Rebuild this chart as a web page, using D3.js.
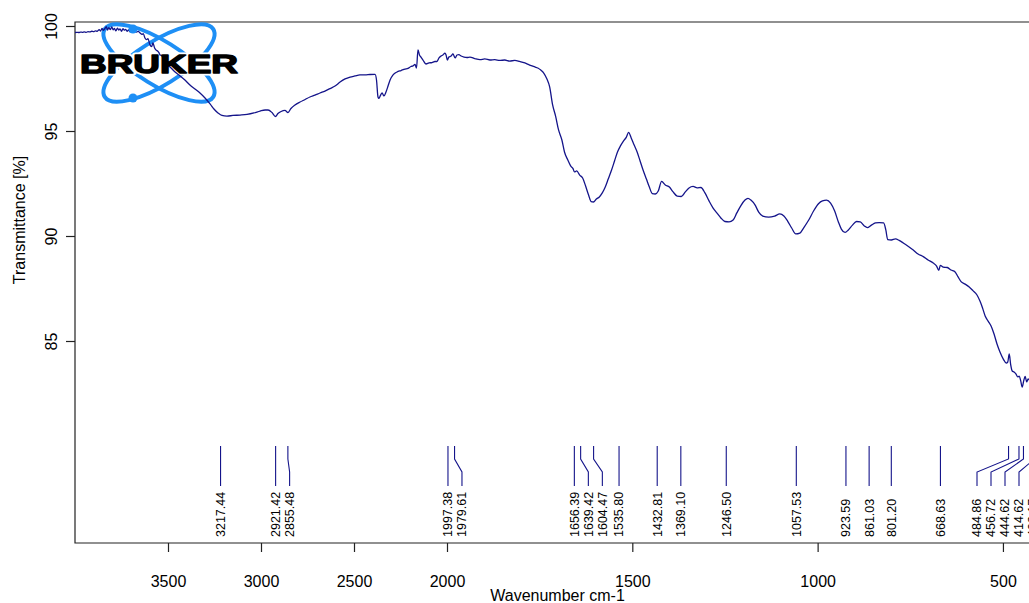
<!DOCTYPE html>
<html>
<head>
<meta charset="utf-8">
<script src="https://cdn.jsdelivr.net/npm/d3@7"></script>
<style>
  html, body { margin: 0; padding: 0; background: #fff; }
  svg { display: block; }
  text { font-family: "Liberation Sans", Arial, sans-serif; }
</style>
</head>
<body>
<svg id="chart" width="1029" height="603"></svg>
<script>
// IR spectrum (ATR), wavenumber in cm-1 and transmittance in %
const wavenumber = [
  4000, 3990, 3980, 3970, 3960, 3950, 3940, 3930, 3920, 3910, 3900, 3890, 3880, 3870, 3862, 3855,
  3848, 3840, 3832, 3825, 3818, 3810, 3802, 3795, 3788, 3780, 3772, 3765, 3758, 3750, 3742, 3735,
  3728, 3720, 3712, 3705, 3698, 3690, 3680, 3670, 3660, 3650, 3640, 3633, 3624, 3615, 3608, 3597,
  3588, 3581, 3572, 3565, 3555, 3548, 3543, 3535, 3527,
  3505, 3489, 3462, 3435, 3409, 3382, 3355, 3328, 3301, 3274, 3253, 3231, 3210, 3183, 3151, 3113,
  3075, 3038, 3005, 2978, 2962, 2941, 2922, 2909, 2892, 2871, 2855, 2839, 2817, 2790, 2763, 2737,
  2710, 2683, 2656, 2629, 2602, 2575, 2548, 2521, 2495, 2468, 2441, 2414, 2387, 2379, 2371, 2366,
  2357, 2349, 2339, 2328, 2317, 2306, 2290, 2269, 2247, 2226, 2210, 2194, 2183, 2172, 2164, 2156,
  2148, 2140, 2129, 2113, 2097, 2081, 2065, 2054, 2043, 2032, 2022, 2011, 2005, 1999, 1995, 1989,
  1984, 1978, 1973, 1968, 1962, 1954, 1946, 1938, 1925, 1911, 1898, 1884, 1871, 1858, 1844, 1831,
  1817, 1804, 1790, 1777, 1763, 1755, 1747, 1739, 1731, 1723, 1715, 1707, 1699, 1690, 1683, 1674,
  1666, 1660, 1656, 1650, 1642, 1634, 1626, 1618, 1611, 1605, 1597, 1589, 1581, 1573, 1565, 1556,
  1548, 1540, 1532, 1524, 1516, 1510, 1503, 1495, 1487, 1479, 1471, 1462, 1454, 1446, 1438, 1430,
  1421, 1411, 1400, 1390, 1379, 1368, 1357, 1347, 1336, 1325, 1315, 1304, 1293, 1282, 1272, 1261,
  1250, 1239, 1228, 1218, 1207, 1196, 1188, 1180, 1169, 1159, 1148, 1132, 1116, 1102, 1091, 1081,
  1070, 1059, 1048, 1038, 1024, 1011, 997, 987, 976, 965, 954, 944, 936, 926, 917, 906,
  895, 885, 874, 866, 855, 844, 834, 822, 816, 811, 801, 790, 780, 769, 755, 742,
  729, 715, 702, 688, 679, 673, 669, 661, 650, 640, 629, 621, 613, 602, 591, 581,
  570, 562, 555, 548, 540, 532, 524, 516, 508, 499, 491, 487, 483, 479, 475, 470,
  465, 460, 456, 452, 448, 444, 440, 436, 432, 424, 416, 400
];
const transmittance = [
  99.69, 99.70, 99.69, 99.71, 99.70, 99.72, 99.70, 99.73, 99.72, 99.75, 99.73, 99.77, 99.75, 99.83, 99.76, 99.89,
  99.79, 99.87, 99.97, 99.81, 99.92, 99.83, 99.96, 99.82, 99.88, 99.77, 99.90, 99.81, 99.86, 99.75, 99.87, 99.80,
  99.84, 99.75, 99.82, 99.72, 99.79, 99.74, 99.78, 99.71, 99.74, 99.67, 99.60, 99.64, 99.43, 99.35, 99.40, 99.10,
  99.02, 99.19, 98.95, 98.86, 98.80, 98.72, 98.62, 98.60, 98.48,
  98.19, 98.05, 97.81, 97.62, 97.43, 97.19, 97.00, 96.81, 96.57, 96.29, 96.05, 95.86, 95.74, 95.71, 95.74, 95.76,
  95.79, 95.86, 95.95, 96.00, 96.00, 95.88, 95.69, 95.83, 95.93, 95.98, 95.88, 96.07, 96.24, 96.38, 96.50, 96.62,
  96.71, 96.81, 96.90, 97.02, 97.14, 97.33, 97.48, 97.57, 97.62, 97.67, 97.67, 97.69, 97.70, 97.43, 96.62, 96.55,
  96.71, 96.81, 96.67, 96.86, 97.14, 97.43, 97.67, 97.81, 97.88, 97.95, 97.98, 98.07, 98.10, 98.17, 98.00, 98.86,
  98.62, 98.52, 98.38, 98.19, 98.24, 98.26, 98.31, 98.31, 98.48, 98.57, 98.62, 98.71, 98.62, 98.38, 98.52, 98.57,
  98.67, 98.48, 98.62, 98.64, 98.57, 98.52, 98.50, 98.52, 98.45, 98.40, 98.43, 98.38, 98.40, 98.36, 98.38, 98.33,
  98.36, 98.31, 98.24, 98.14, 98.05, 98.00, 97.90, 97.76, 97.50, 97.10, 96.24, 95.71, 95.05, 94.57, 94.00, 93.62,
  93.33, 93.21, 93.05, 93.10, 92.90, 92.76, 92.38, 91.95, 91.64, 91.62, 91.76, 91.86, 92.05, 92.33, 92.71, 93.14,
  93.57, 94.00, 94.29, 94.52, 94.71, 94.93, 94.67, 94.33, 94.00, 93.57, 93.14, 92.71, 92.33, 92.02, 92.00, 92.14,
  92.60, 92.43, 92.33, 92.10, 91.90, 91.88, 92.10, 92.29, 92.36, 92.29, 92.31, 92.05, 91.67, 91.33, 91.10, 90.86,
  90.69, 90.67, 90.76, 91.10, 91.45, 91.71, 91.79, 91.71, 91.48, 91.14, 90.95, 90.90, 90.95, 91.05, 90.95, 90.71,
  90.38, 90.10, 90.14, 90.38, 90.76, 91.19, 91.55, 91.67, 91.71, 91.57, 91.19, 90.67, 90.33, 90.17, 90.29, 90.52,
  90.69, 90.67, 90.48, 90.40, 90.52, 90.62, 90.64, 90.62, 90.29, 89.83, 89.81, 89.86, 89.79, 89.67, 89.50, 89.33,
  89.14, 89.02, 88.86, 88.71, 88.57, 88.36, 88.60, 88.52, 88.50, 88.38, 88.29, 88.05, 87.83, 87.71, 87.57, 87.40,
  87.19, 86.90, 86.57, 86.19, 85.95, 85.71, 85.33, 84.86, 84.48, 84.14, 83.95, 84.00, 84.38, 83.86, 83.57, 83.52,
  83.43, 83.29, 83.33, 83.10, 82.81, 83.10, 83.31, 83.05, 83.19, 83.00, 82.90, 82.95
];

// Picked peak positions (cm-1)
const peakPositions = [
  3217.44, 2921.42, 2855.48, 1997.38, 1979.61, 1656.39, 1639.42, 1604.47, 1535.80,
  1432.81, 1369.10, 1246.50, 1057.53, 923.59, 861.03, 801.20, 668.63,
  484.86, 456.72, 444.62, 414.62, 403.17
];

const xTickValues = [3500, 3000, 2500, 2000, 1500, 1000, 500];
const yTickValues = [100, 95, 90, 85];

const xTitle = "Wavenumber cm-1";
const yTitle = "Transmittance [%]";

// ---- layout ----
const plot = { left: 75, right: 1040, top: 22, bottom: 543 };
const lineColor = "#14148a";
const axisColor = "#222";

const svg = d3.select("#chart");

// Wavenumber axis is compressed by a factor of 2 above 2000 cm-1
const x = d3.scaleLinear()
  .domain([4000, 2000, 400])
  .range([plot.left, 447, plot.right]);

const y = d3.scaleLinear()
  .domain([85, 100])
  .range([341, 26]);

svg.append("defs").append("clipPath").attr("id", "plotClip")
  .append("rect")
  .attr("x", plot.left).attr("y", plot.top)
  .attr("width", plot.right - plot.left).attr("height", plot.bottom - plot.top);

// ---- frame ----
svg.append("path")
  .attr("d", `M${plot.right},${plot.top}H${plot.left}V${plot.bottom}H${plot.right}`)
  .attr("fill", "none")
  .attr("stroke", axisColor)
  .attr("stroke-width", 1.2);

// ---- axes ----
const xAxis = d3.axisBottom(x).tickValues(xTickValues).tickSize(9).tickPadding(0).tickFormat(d3.format("d"));
const gx = svg.append("g").attr("transform", `translate(0,${plot.bottom})`).call(xAxis);
gx.select(".domain").remove();
gx.selectAll(".tick line").attr("stroke", axisColor).attr("stroke-width", 1.2);
gx.selectAll(".tick text")
  .attr("fill", "#000")
  .attr("font-size", 16)
  .attr("dy", null)
  .attr("y", 44);

const yAxis = d3.axisLeft(y).tickValues(yTickValues).tickSize(9).tickFormat(d3.format("d"));
const gy = svg.append("g").attr("transform", `translate(${plot.left},0)`).call(yAxis);
gy.select(".domain").remove();
gy.selectAll(".tick line").attr("stroke", axisColor).attr("stroke-width", 1.2);
gy.selectAll(".tick text")
  .attr("fill", "#000")
  .attr("font-size", 16)
  .attr("x", null).attr("dy", null)
  .attr("text-anchor", "middle")
  .attr("transform", "translate(-18,0) rotate(-90)");

svg.append("text")
  .attr("x", (plot.left + plot.right) / 2)
  .attr("y", 601)
  .attr("text-anchor", "middle")
  .attr("font-size", 16)
  .text(xTitle);

svg.append("text")
  .attr("transform", "translate(25,220) rotate(-90)")
  .attr("text-anchor", "middle")
  .attr("font-size", 16)
  .text(yTitle);

// ---- logo: orbits and wordmark ----
const ringBlue = "#1e8ff5";
const logo = svg.append("g").attr("transform", "translate(159,63)");
[32, -32].forEach(a => {
  logo.append("ellipse")
    .attr("rx", 64).attr("ry", 22)
    .attr("transform", `rotate(${a})`)
    .attr("fill", "none")
    .attr("stroke", ringBlue)
    .attr("stroke-width", 4);
});
const word = {
  x: -79, y: 10, size: 26, len: 158, text: "BRUKER"
};
// white halo under the letters
logo.append("text")
  .attr("x", word.x).attr("y", word.y)
  .attr("font-family", "'DejaVu Sans', sans-serif")
  .attr("font-weight", "bold")
  .attr("font-size", word.size)
  .attr("textLength", word.len)
  .attr("lengthAdjust", "spacingAndGlyphs")
  .attr("fill", "#fff")
  .attr("stroke", "#fff")
  .attr("stroke-width", 5)
  .attr("stroke-linejoin", "round")
  .text(word.text);

// ---- spectrum ----
const spectrum = wavenumber.map((w, i) => [w, transmittance[i]]);
svg.append("path")
  .datum(spectrum)
  .attr("clip-path", "url(#plotClip)")
  .attr("fill", "none")
  .attr("stroke", lineColor)
  .attr("stroke-width", 1.3)
  .attr("stroke-linejoin", "round")
  .attr("d", d3.line().curve(d3.curveMonotoneX).x(d => x(d[0])).y(d => y(d[1])));

// heavy black letters and orbit dots above the trace
const logoTop = svg.append("g").attr("transform", "translate(159,63)");
logoTop.append("text")
  .attr("x", word.x).attr("y", word.y)
  .attr("font-family", "'DejaVu Sans', sans-serif")
  .attr("font-weight", "bold")
  .attr("font-size", word.size)
  .attr("textLength", word.len)
  .attr("lengthAdjust", "spacingAndGlyphs")
  .attr("fill", "#000")
  .attr("stroke", "#000")
  .attr("stroke-width", 1.4)
  .attr("stroke-linejoin", "round")
  .text(word.text);
[[-26, -34], [-26, 35]].forEach(([cx, cy]) => {
  logoTop.append("circle").attr("cx", cx).attr("cy", cy).attr("r", 4.5).attr("fill", ringBlue);
});

// ---- peak annotations ----
const gap = 14;
const maxLabelX = plot.right - 7;
const peaks = peakPositions
  .map(p => ({ value: p, px: x(p) }))
  .sort((a, b) => a.px - b.px);
peaks.forEach((p, i) => {
  p.lx = i === 0 ? p.px : Math.max(p.px, peaks[i - 1].lx + gap);
});
for (let i = peaks.length - 1; i >= 0; i--) {
  const limit = i === peaks.length - 1 ? maxLabelX : peaks[i + 1].lx - gap;
  peaks[i].lx = Math.min(peaks[i].lx, limit);
}

const gPeaks = svg.append("g").attr("clip-path", "url(#plotClip)");
gPeaks.selectAll("path")
  .data(peaks)
  .join("path")
  .attr("fill", "none")
  .attr("stroke", lineColor)
  .attr("stroke-width", 1.1)
  .attr("d", d => `M${d.px},446V459L${d.lx},472V486`);

gPeaks.selectAll("text")
  .data(peaks)
  .join("text")
  .attr("transform", d => `translate(${d.lx},537) rotate(-90)`)
  .attr("text-anchor", "start")
  .attr("dy", "0.35em")
  .attr("font-size", 12.5)
  .attr("fill", "#000")
  .text(d => d.value.toFixed(2));
</script>
</body>
</html>
